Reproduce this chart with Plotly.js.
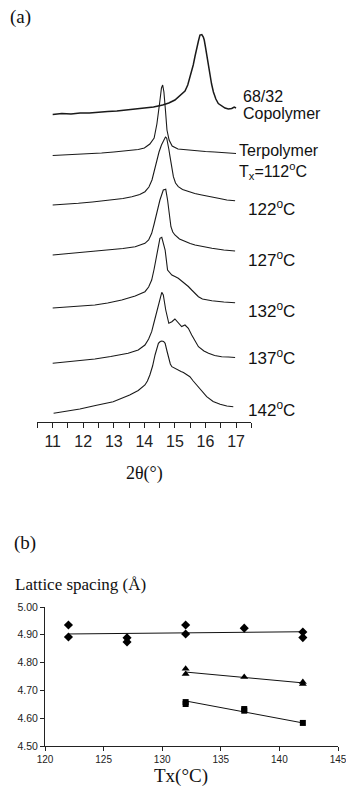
<!DOCTYPE html>
<html>
<head>
<meta charset="utf-8">
<script src="https://cdn.plot.ly/plotly-3.0.1.min.js"></script>
<style>html,body{margin:0;padding:0;background:#fff;}#chart{width:346px;height:787px;}</style>
</head>
<body>
<div id="chart"></div>
<script>
// ---- Panel (a): XRD patterns, 2θ (deg) vs offset intensity (arbitrary units) ----
const copoX = [11.0, 11.3, 11.6, 11.9, 12.2, 12.5, 12.8, 13.1, 13.4, 13.7, 14.0, 14.3, 14.6, 14.8, 15.0, 15.1, 15.2, 15.33, 15.42, 15.49, 15.55, 15.6, 15.66, 15.71, 15.77, 15.82, 15.88, 15.93, 15.96, 16.0, 16.04, 16.1, 16.15, 16.2, 16.26, 16.34, 16.42, 16.53, 16.64, 16.75, 16.86, 16.94, 17.0];
const copoY = [306.5, 307.5, 307, 308, 308, 309, 309.5, 310, 311, 311.5, 312.5, 314, 316, 318, 321, 323.5, 326, 330, 336, 343, 349, 356, 365, 373, 380, 386, 386.5, 384, 381, 374, 366, 355, 346, 337, 329, 322, 317.5, 315, 313, 312, 312.5, 314, 313];

const terX = [11.0, 11.4, 11.8, 12.2, 12.6, 13.0, 13.4, 13.8, 14.0, 14.18, 14.32, 14.41, 14.5, 14.56, 14.6, 14.64, 14.69, 14.74, 14.81, 14.91, 15.1, 15.4, 15.7, 16.0, 16.3, 16.6, 17.0];
const terY = [265.5, 266, 266.5, 267.5, 268, 269, 270, 271.5, 273, 277, 283, 297, 318, 333, 336, 329, 311, 291, 281, 275, 272, 271, 270, 269.5, 269, 268.5, 267.5];

const t122X = [11.0, 11.4, 11.84, 12.3, 12.93, 13.3, 13.59, 13.85, 14.02, 14.15, 14.25, 14.33, 14.4, 14.48, 14.56, 14.63, 14.69, 14.73, 14.76, 14.8, 14.84, 14.9, 14.95, 15.02, 15.11, 15.25, 15.44, 15.65, 15.88, 16.15, 16.42, 16.7, 16.97];
const t122Y = [216, 216.5, 217.7, 219, 221, 222.5, 224.3, 226.5, 229.3, 234, 241, 251, 261, 269, 276, 281, 284, 283, 279.3, 272, 264.3, 253, 244.3, 238, 234.3, 231.5, 229.3, 227.5, 226, 224, 222.7, 221, 220.3];

const t127X = [11.0, 11.4, 11.84, 12.3, 12.93, 13.3, 13.7, 14.02, 14.14, 14.24, 14.32, 14.4, 14.51, 14.62, 14.7, 14.76, 14.82, 14.87, 14.93, 15.0, 15.15, 15.33, 15.5, 15.66, 15.9, 16.21, 16.6, 16.97];
const t127Y = [166, 167, 168.3, 169.5, 171, 172.5, 174.3, 177.7, 181, 187.7, 197, 207.7, 221, 231, 231.7, 221, 206, 194.3, 189, 186, 182, 179.3, 177.5, 176, 174.5, 172.7, 171, 170];

const t132X = [11.0, 11.5, 12.0, 12.38, 12.8, 13.26, 13.7, 14.02, 14.14, 14.24, 14.32, 14.4, 14.51, 14.57, 14.68, 14.76, 14.83, 14.9, 15.0, 15.11, 15.22, 15.33, 15.44, 15.55, 15.66, 15.77, 15.9, 16.05, 16.21, 16.6, 16.97];
const t132Y = [113, 114, 115, 116, 118, 121, 125, 129.3, 134, 141, 152, 164.3, 182.7, 183.7, 171, 151, 148, 146, 144.5, 142.7, 140, 137.7, 134.5, 131, 127.5, 124.3, 122, 121, 120.3, 119, 118.3];

const t137X = [11.0, 11.5, 12.0, 12.38, 12.9, 13.47, 13.8, 14.02, 14.14, 14.24, 14.32, 14.4, 14.51, 14.57, 14.62, 14.7, 14.8, 14.9, 15.0, 15.11, 15.22, 15.33, 15.44, 15.55, 15.66, 15.77, 15.95, 16.1, 16.3, 16.53, 16.75, 16.97];
const t137Y = [57.7, 59, 61, 62, 64.5, 67.7, 71, 76, 82, 89.3, 99, 109.3, 122.7, 128.7, 126, 111, 97.7, 99.3, 102, 98, 94.5, 96, 92.7, 86, 80, 74.3, 70, 67.7, 65.5, 64.3, 64, 63.5];

const t142X = [11.03, 11.4, 11.89, 12.4, 12.98, 13.52, 13.8, 14.02, 14.1, 14.18, 14.27, 14.35, 14.46, 14.52, 14.57, 14.63, 14.68, 14.74, 14.79, 14.85, 14.9, 15.0, 15.11, 15.2, 15.28, 15.39, 15.49, 15.6, 15.71, 15.88, 16.04, 16.25, 16.48, 16.7, 16.91];
const t142Y = [7.7, 9.5, 12, 15.5, 19.3, 26, 30.5, 36, 40, 46, 55, 66, 77.7, 79.5, 80, 79.5, 77.7, 70, 62.7, 57, 54.3, 52.5, 51, 49.5, 48.5, 46, 44.3, 40, 36, 29.5, 24.3, 19.5, 16.7, 15, 14.3];

const twoThetaTicks = [11, 12, 13, 14, 15, 16, 17];

// ---- Panel (b): lattice spacing vs Tx ----
const diamondTx = [122, 122, 127, 127, 132, 132, 137, 142, 142];
const diamondD  = [4.935, 4.892, 4.889, 4.874, 4.935, 4.903, 4.924, 4.910, 4.890];
const triTx = [132, 132, 137, 142, 142];
const triD  = [4.778, 4.759, 4.748, 4.730, 4.723];
const sqTx = [132, 132, 137, 137, 142];
const sqD  = [4.658, 4.651, 4.633, 4.627, 4.583];
const diamondFitTx = [122, 142];
const diamondFitD  = [4.903, 4.911];
const triFitTx = [132, 142];
const triFitD  = [4.766, 4.727];
const sqFitTx = [132, 142];
const sqFitD  = [4.662, 4.583];

const W = 346, H = 787;
const px = v => v / W;
const py = v => 1 - v / H;

function xrd(x, y, w) {
  return {x: x, y: y, type: 'scatter', mode: 'lines', line: {color: '#1a1a1a', width: w || 1.1}, xaxis: 'x', yaxis: 'y', hoverinfo: 'skip', showlegend: false};
}

const data = [
  xrd(copoX, copoY, 1.5),
  xrd(terX, terY),
  xrd(t122X, t122Y),
  xrd(t127X, t127Y),
  xrd(t132X, t132Y),
  xrd(t137X, t137Y),
  xrd(t142X, t142Y),
  {x: diamondFitTx, y: diamondFitD, type: 'scatter', mode: 'lines', line: {color: '#111', width: 1}, xaxis: 'x2', yaxis: 'y2', showlegend: false},
  {x: triFitTx, y: triFitD, type: 'scatter', mode: 'lines', line: {color: '#111', width: 1}, xaxis: 'x2', yaxis: 'y2', showlegend: false},
  {x: sqFitTx, y: sqFitD, type: 'scatter', mode: 'lines', line: {color: '#111', width: 1}, xaxis: 'x2', yaxis: 'y2', showlegend: false},
  {x: diamondTx, y: diamondD, type: 'scatter', mode: 'markers', marker: {symbol: 'diamond', size: 7, color: '#000'}, xaxis: 'x2', yaxis: 'y2', showlegend: false},
  {x: triTx, y: triD, type: 'scatter', mode: 'markers', marker: {symbol: 'triangle-up', size: 7, color: '#000'}, xaxis: 'x2', yaxis: 'y2', showlegend: false},
  {x: sqTx, y: sqD, type: 'scatter', mode: 'markers', marker: {symbol: 'square', size: 6, color: '#000'}, xaxis: 'x2', yaxis: 'y2', showlegend: false}
];

const sans = 'Liberation Sans, Arial, sans-serif';
const serif = 'Liberation Serif, Times New Roman, serif';
const lbl = 16;

function ann(text, x, y, size, family, anchor) {
  return {text: text, x: px(x), y: py(y), xref: 'paper', yref: 'paper', xanchor: anchor || 'left', yanchor: 'middle', showarrow: false, font: {family: family || sans, size: size || lbl, color: '#111'}};
}

const layout = {
  width: W, height: H,
  margin: {l: 0, r: 0, t: 0, b: 0},
  paper_bgcolor: '#fff', plot_bgcolor: '#fff',
  showlegend: false,
  xaxis: {
    domain: [px(37.4), px(251.3)], range: [10.5, 17.5], anchor: 'y',
    showline: true, linecolor: '#222', linewidth: 1, zeroline: false, showgrid: false,
    ticks: 'outside', ticklen: 5, tickcolor: '#222', tickvals: twoThetaTicks,
    minor: {dtick: 0.5, tick0: 10.5, ticks: 'outside', ticklen: 5, tickcolor: '#222', showgrid: false},
    tickfont: {family: sans, size: 16, color: '#222'},
    title: {text: '2θ(°)', font: {family: serif, size: 18, color: '#111'}, standoff: 17}
  },
  yaxis: {
    domain: [py(422), py(20)], range: [-1, 401], anchor: 'x',
    visible: false
  },
  xaxis2: {
    domain: [px(45), px(338)], range: [120, 145], anchor: 'y2',
    showline: true, linecolor: '#222', linewidth: 1, zeroline: false, showgrid: false,
    ticks: 'outside', ticklen: 4, tickcolor: '#222', dtick: 5, tick0: 120,
    ticklabeloverflow: 'allow',
    tickfont: {family: sans, size: 10, color: '#222'}
  },
  yaxis2: {
    domain: [py(746), py(607)], range: [4.5, 5.0], anchor: 'x2',
    showline: true, linecolor: '#222', linewidth: 1, zeroline: false, showgrid: false,
    ticks: 'outside', ticklen: 4, tickcolor: '#222', dtick: 0.1, tick0: 4.5, tickformat: '.2f',
    tickfont: {family: sans, size: 10.5, color: '#222'}
  },
  annotations: [
    ann('(a)', 8, 17, 19, serif),
    ann('68/32', 241, 96),
    ann('Copolymer', 241, 113),
    ann('Terpolymer', 237, 150),
    ann('T<sub>x</sub>=112<sup>o</sup>C', 237, 171),
    ann('122<sup>o</sup>C', 246, 208, 17),
    ann('127<sup>o</sup>C', 246, 259, 17),
    ann('132<sup>o</sup>C', 246, 310, 17),
    ann('137<sup>o</sup>C', 246, 357, 17),
    ann('142<sup>o</sup>C', 246, 409, 17),
    ann('(b)', 12, 543, 19, serif),
    ann('Lattice spacing (Å)', 13, 584, 17, serif),
    ann('Tx(°C)', 181, 776, 19, serif, 'center')
  ]
};

Plotly.newPlot('chart', data, layout, {displayModeBar: false, staticPlot: true});
</script>
</body>
</html>
